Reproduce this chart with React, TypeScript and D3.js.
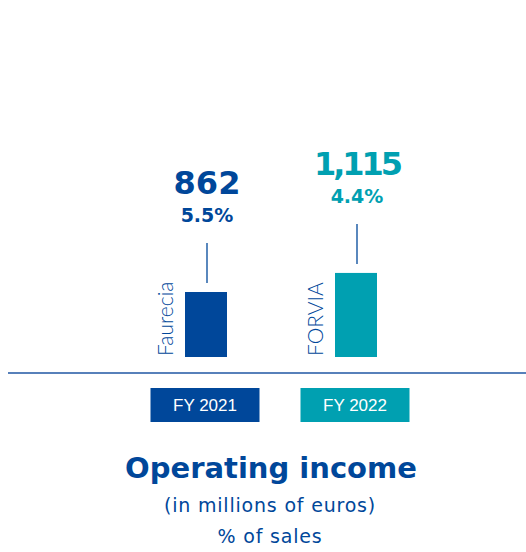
import React, { useEffect, useRef } from 'react'
import * as d3 from 'd3'

const years = ['FY 2021', 'FY 2022']
const brands = ['Faurecia', 'FORVIA']
const income = [862, 1115]
const incomeLabels = ['862', '1,115']
const margins = ['5.5%', '4.4%']
const colors = ['#00479a', '#00a0b1']

const App = () => {
  const svgRef = useRef(null)

  useEffect(() => {
    const svg = d3.select(svgRef.current)
    svg.selectAll('*').remove()

    const x = d3.scalePoint().domain(years).range([206, 356])
    const y = d3.scaleLinear().domain([0, 1000]).range([357, 281.6])
    const barW = 42
    const bold = '"DejaVu Sans", sans-serif'
    const light = 'Lato, "Open Sans", sans-serif'

    // bars
    svg
      .selectAll('.bar')
      .data(years)
      .join('rect')
      .attr('class', 'bar')
      .attr('x', (d) => x(d) - barW / 2)
      .attr('y', (d, i) => y(income[i]))
      .attr('width', barW)
      .attr('height', (d, i) => y(0) - y(income[i]))
      .attr('fill', (d, i) => colors[i])

    // connector lines
    svg
      .selectAll('.stem')
      .data(years)
      .join('line')
      .attr('class', 'stem')
      .attr('x1', (d) => x(d) + 1)
      .attr('x2', (d) => x(d) + 1)
      .attr('y1', (d, i) => y(income[i]) - 9)
      .attr('y2', (d, i) => y(income[i]) - 49)
      .attr('stroke', '#00479a')
      .attr('stroke-width', 1.3)

    // values
    svg
      .selectAll('.val')
      .data(years)
      .join('text')
      .attr('class', 'val')
      .attr('x', (d) => x(d) + 1)
      .attr('y', (d, i) => y(income[i]) - 98)
      .attr('text-anchor', 'middle')
      .attr('fill', (d, i) => colors[i])
      .style('font-family', bold)
      .style('font-weight', 700)
      .style('font-size', '32px')
      .style('letter-spacing', (d, i) => (i === 1 ? '-3px' : '0px'))
      .text((d, i) => incomeLabels[i])

    svg
      .selectAll('.pct')
      .data(years)
      .join('text')
      .attr('class', 'pct')
      .attr('x', (d) => x(d) + 1)
      .attr('y', (d, i) => y(income[i]) - 70)
      .attr('text-anchor', 'middle')
      .attr('fill', (d, i) => colors[i])
      .style('font-family', bold)
      .style('font-weight', 700)
      .style('font-size', '19px')
      .text((d, i) => margins[i])

    // brand names, rotated
    svg
      .selectAll('.brand')
      .data(years)
      .join('text')
      .attr('class', 'brand')
      .attr('transform', (d) => `translate(${x(d) - 33},356) rotate(-90)`)
      .attr('fill', '#00479a')
      .style('font-family', light)
      .style('font-weight', 300)
      .style('font-size', '21px')
      .text((d, i) => brands[i])

    // baseline
    svg
      .append('line')
      .attr('x1', 8)
      .attr('x2', 526)
      .attr('y1', 373)
      .attr('y2', 373)
      .attr('stroke', '#1f56a3')
      .attr('stroke-width', 1.5)

    // year boxes
    const boxW = 109
    const boxes = svg
      .selectAll('.year')
      .data(years)
      .join('g')
      .attr('class', 'year')
      .attr('transform', (d) => `translate(${x(d) - 1},0)`)
    boxes
      .append('rect')
      .attr('x', -boxW / 2)
      .attr('y', 388)
      .attr('width', boxW)
      .attr('height', 34)
      .attr('fill', (d, i) => colors[i])
    boxes
      .append('text')
      .attr('y', 411)
      .attr('text-anchor', 'middle')
      .attr('fill', '#fff')
      .style('font-family', '"Liberation Sans", Arial, sans-serif')
      .style('font-size', '17px')
      .text((d) => d)

    // titles
    const title = svg.append('g').attr('fill', '#00479a')
    title
      .append('text')
      .attr('x', 271)
      .attr('y', 478)
      .attr('text-anchor', 'middle')
      .style('font-family', bold)
      .style('font-weight', 700)
      .style('font-size', '29px')
      .text('Operating income')
    title
      .append('text')
      .attr('x', 270)
      .attr('y', 512)
      .attr('text-anchor', 'middle')
      .style('font-family', bold)
      .style('font-size', '19px')
      .style('letter-spacing', '0.8px')
      .text('(in millions of euros)')
    title
      .append('text')
      .attr('x', 270)
      .attr('y', 543)
      .attr('text-anchor', 'middle')
      .style('font-family', bold)
      .style('font-size', '19px')
      .style('letter-spacing', '0.8px')
      .text('% of sales')
  }, [])

  return (
    <svg
      ref={svgRef}
      width={526}
      height={552}
      style={{ position: 'absolute', left: 0, top: 0 }}
    />
  )
}

export default App
